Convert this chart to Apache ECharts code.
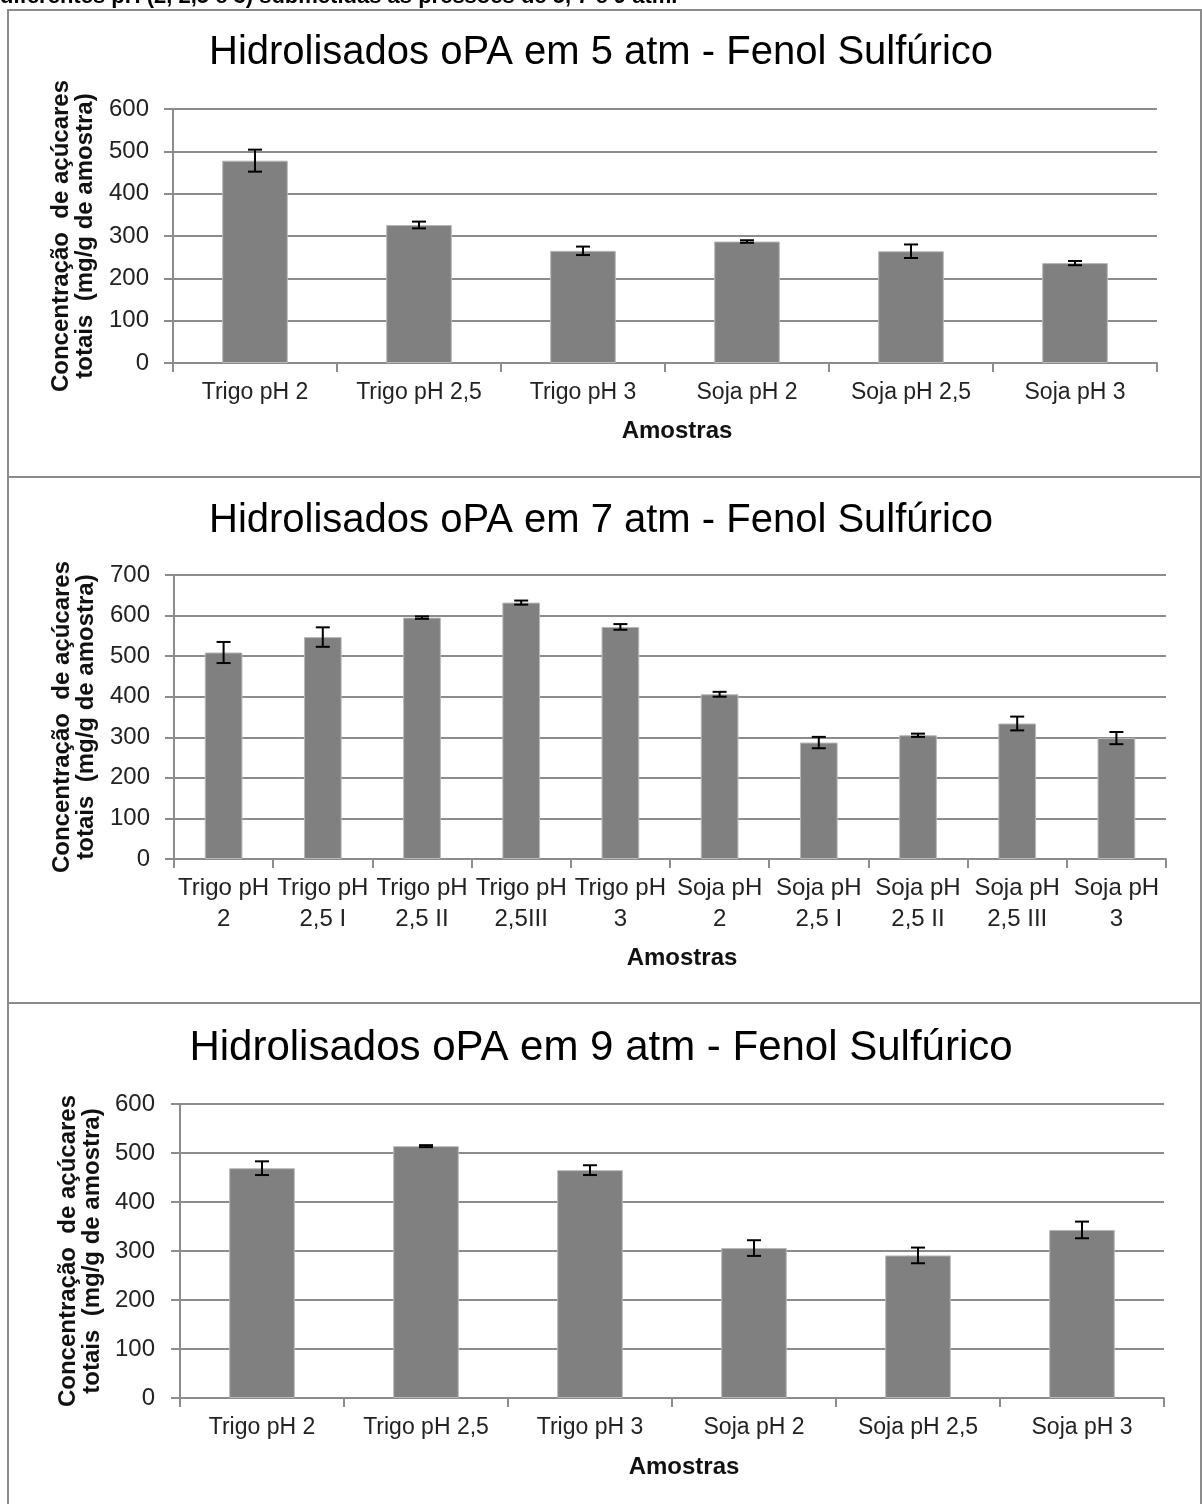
<!DOCTYPE html>
<html><head><meta charset="utf-8">
<script src="https://cdn.jsdelivr.net/npm/echarts@6/dist/echarts.min.js"></script>
<style>html,body{margin:0;padding:0;background:#fff}#c{width:1202px;height:1504px}</style>
</head><body><div id="c"></div>
<script>
// ---- data ----
const cats1 = ['Trigo pH 2','Trigo pH 2,5','Trigo pH 3','Soja pH 2','Soja pH 2,5','Soja pH 3'];
const vals1 = [478, 326, 265, 287, 264, 236];
const err1  = [26, 8, 10, 3, 16, 5];

const cats2 = ['Trigo pH\n2','Trigo pH\n2,5 I','Trigo pH\n2,5 II','Trigo pH\n2,5III','Trigo pH\n3',
               'Soja pH\n2','Soja pH\n2,5 I','Soja pH\n2,5 II','Soja pH\n2,5 III','Soja pH\n3'];
const vals2 = [509, 547, 595, 632, 572, 406, 287, 305, 334, 298];
const err2  = [26, 24, 3, 5, 7, 6, 14, 4, 17, 15];

const cats3 = ['Trigo pH 2','Trigo pH 2,5','Trigo pH 3','Soja pH 2','Soja pH 2,5','Soja pH 3'];
const vals3 = [469, 514, 465, 306, 291, 343];
const err3  = [14, 2, 10, 16, 16, 17];

const titles = ['Hidrolisados oPA em 5 atm - Fenol Sulfúrico',
                'Hidrolisados oPA em 7 atm - Fenol Sulfúrico',
                'Hidrolisados oPA em 9 atm - Fenol Sulfúrico'];
const yMax = [600, 700, 600];
const yName = 'Concentração  de açúcares\ntotais  (mg/g de amostra)';
const xName = 'Amostras';
const caption = 'diferentes pH (2, 2,5 e 3) submetidas às pressões de 5, 7 e 9 atm.';

// ---- layout ----
const FONT = "'Liberation Sans', Arial, sans-serif";
const grids = [
  {left:173, top:109, width:984, height:254},
  {left:174, top:575, width:992, height:284},
  {left:180, top:1104, width:984, height:294}
];
const titleY = [52, 520, 1048];
const titleSize = [40, 40, 42];
const xNameGap = [56, 87, 57];
const xLabelSize = [23, 24, 23];
const yLabelMargin = [24, 24, 25];
const barW = ['40%','38%','40%'];
const cats = [cats1, cats2, cats3];
const vals = [vals1, vals2, vals3];
const errs = [err1, err2, err3];

const chart = echarts.init(document.getElementById('c'), null, {renderer:'canvas'});

function errItem(params, api){
  const x = api.value(0), y = api.value(1), e = api.value(2);
  const t = api.coord([x, y + e]);
  const b = api.coord([x, y - e]);
  const hw = 7;
  const st = {stroke:'#000', lineWidth:2};
  return {type:'group', children:[
    {type:'line', shape:{x1:t[0], y1:t[1], x2:b[0], y2:b[1]}, style:st},
    {type:'line', shape:{x1:t[0]-hw, y1:t[1], x2:t[0]+hw, y2:t[1]}, style:st},
    {type:'line', shape:{x1:b[0]-hw, y1:b[1], x2:b[0]+hw, y2:b[1]}, style:st}
  ]};
}

const option = {
  animation:false,
  backgroundColor:'#fff',
  textStyle:{fontFamily:FONT},
  title: titles.map((t,i)=>({
    text:t, left:'center', top:titleY[i]-titleSize[i]*0.6,
    textStyle:{fontFamily:FONT, fontSize:titleSize[i], fontWeight:'normal', color:'#000'}
  })),
  grid: grids.map(g=>Object.assign({containLabel:false}, g)),
  xAxis: cats.map((c,i)=>({
    type:'category', gridIndex:i, data:c,
    axisLine:{lineStyle:{color:'#8c8c8c', width:2}},
    axisTick:{show:true, length:9, lineStyle:{color:'#8c8c8c', width:2}},
    axisLabel:{interval:0, color:'#222', fontSize:xLabelSize[i], fontFamily:FONT, margin:14, lineHeight:31, hideOverlap:false},
    name:xName, nameLocation:'middle', nameGap:xNameGap[i],
    nameTextStyle:{fontFamily:FONT, fontSize:24, fontWeight:'bold', color:'#111', padding:[0,0,0,24]}
  })),
  yAxis: yMax.map((m,i)=>({
    type:'value', gridIndex:i, min:0, max:m, interval:100,
    axisLine:{show:true, lineStyle:{color:'#8c8c8c', width:2}},
    axisTick:{show:true, length:9, lineStyle:{color:'#8c8c8c', width:2}},
    splitLine:{lineStyle:{color:'#8c8c8c', width:2}},
    axisLabel:{color:'#222', fontSize:24, fontFamily:FONT, margin:yLabelMargin[i]},
    name:yName, nameLocation:'middle', nameRotate:90, nameGap:76,
    nameTextStyle:{fontFamily:FONT, fontSize:24, fontWeight:'bold', color:'#111', lineHeight:24, align:'center'}
  })),
  series: [].concat(
    vals.map((v,i)=>({
      type:'bar', xAxisIndex:i, yAxisIndex:i, data:v, barWidth:barW[i],
      itemStyle:{color:'#808080', borderColor:'#b8b8b8', borderWidth:1}, z:2
    })),
    vals.map((v,i)=>({
      type:'custom', xAxisIndex:i, yAxisIndex:i, z:5,
      renderItem:errItem, encode:{x:0, y:1},
      data:v.map((val,k)=>[k, val, errs[i][k]])
    }))
  ),
  graphic:[
    {type:'rect', shape:{x:8, y:10, width:1193, height:1510}, style:{fill:'none', stroke:'#8c8c8c', lineWidth:2}, z:10},
    {type:'line', shape:{x1:8, y1:477, x2:1202, y2:477}, style:{stroke:'#8c8c8c', lineWidth:2}, z:10},
    {type:'line', shape:{x1:8, y1:1003, x2:1202, y2:1003}, style:{stroke:'#8c8c8c', lineWidth:2}, z:10},
    {type:'text', left:0, top:-14, style:{text:caption, font:"bold 22px 'Liberation Sans', Arial, sans-serif", fill:'#000'}, z:10}
  ]
};
chart.setOption(option);
</script>
</body></html>
